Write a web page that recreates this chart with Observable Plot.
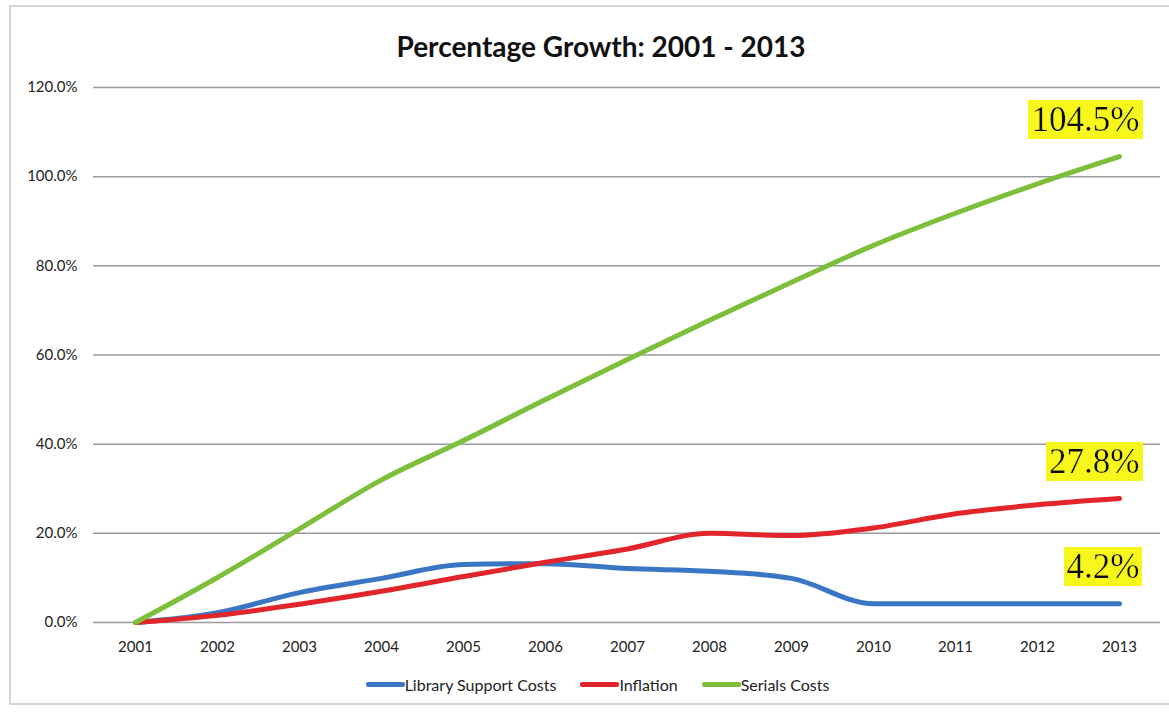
<!DOCTYPE html>
<html>
<head>
<meta charset="utf-8">
<script src="https://cdn.jsdelivr.net/npm/d3@7"></script>
<script src="https://cdn.jsdelivr.net/npm/@observablehq/plot@0.6"></script>
<style>
  html, body { margin: 0; padding: 0; background: #fff; }
  #wrap { position: relative; width: 1169px; height: 714px; overflow: hidden; font-family: Lato, "Open Sans", sans-serif; }
  #frame { position: absolute; left: 9px; top: 5px; width: 1162px; height: 700px; border: 2px solid #d6d6d6; box-sizing: border-box; }
  #title { position: absolute; left: 0; width: 1202px; top: 29px; text-align: center; font-weight: bold; font-size: 28px; color: #111; }
  #chart { position: absolute; left: 0; top: 0; }
  #legend { position: absolute; left: 0; width: 1195px; top: 675px; display: flex; justify-content: center; gap: 24px; font-size: 16px; color: #222; }
  #legend .item { display: flex; align-items: center; }
  #legend .sw { width: 39px; height: 5px; border-radius: 2px; }
</style>
</head>
<body>
<div id="wrap">
  <div id="frame"></div>
  <div id="chart"></div>
  <div id="title">Percentage Growth: 2001 - 2013</div>
  <div id="legend"></div>
</div>
<script>
const years = ["2001","2002","2003","2004","2005","2006","2007","2008","2009","2010","2011","2012","2013"];
const librarySupport = [0, 2.2, 6.7, 9.9, 13.0, 13.2, 12.1, 11.5, 9.9, 4.2, 4.2, 4.2, 4.2];
const inflation = [0, 1.6, 4.1, 7.0, 10.3, 13.5, 16.5, 20.0, 19.5, 21.2, 24.4, 26.4, 27.8];
const serials = [0, 10.1, 21.0, 32.0, 40.8, 50.0, 59.0, 67.8, 76.3, 84.6, 91.8, 98.4, 104.5];
const seriesNames = ["Library Support Costs", "Inflation", "Serials Costs"];
const seriesColors = ["#3b76c4", "#e2252b", "#7dbf3b"];
const yTicks = [0, 20, 40, 60, 80, 100, 120];

const seriesValues = [librarySupport, inflation, serials];
const rows = [];
seriesNames.forEach((name, i) => {
  years.forEach((yr, j) => rows.push({series: name, year: yr, value: seriesValues[i][j]}));
});
const endLabels = seriesNames.map((name, i) => ({
  series: name, year: years[years.length - 1],
  value: seriesValues[i][seriesValues[i].length - 1],
  label: seriesValues[i][seriesValues[i].length - 1].toFixed(1) + "%"
}));

const fmt = d => d.toFixed(1) + "%";

const chart = Plot.plot({
  width: 1169,
  height: 666,
  marginTop: 87,
  marginBottom: 44,
  marginLeft: 93,
  marginRight: 9,
  style: {fontFamily: "Lato, 'Open Sans', sans-serif", fontSize: "15px", color: "#222", background: "transparent"},
  x: {type: "point", domain: years, padding: 0.5, label: null},
  y: {domain: [0, 120], label: null},
  color: {domain: seriesNames, range: seriesColors},
  marks: [
    Plot.gridY(yTicks, {stroke: "#9a9a9a", strokeOpacity: 1, strokeWidth: 1.5}),
    Plot.axisX({tickSize: 0, tickPadding: 19, fontSize: 15}),
    Plot.axisY({ticks: yTicks, tickFormat: fmt, tickSize: 0, tickPadding: 16, fontSize: 15}),
    Plot.line(rows, {x: "year", y: "value", z: "series", stroke: "series", strokeWidth: 5, curve: "monotone-x", strokeLinecap: "round"}),
    Plot.text(endLabels, {x: "year", y: "value", text: "label", textAnchor: "end", dx: 20, dy: -37,
      fontFamily: "'Liberation Serif', 'Times New Roman', serif", fontSize: 35, fill: "#111", lineAnchor: "middle"})
  ]
});

// yellow background filter for end labels
const ns = "http://www.w3.org/2000/svg";
const defs = document.createElementNS(ns, "defs");
defs.innerHTML = '<filter id="ybg" x="-0.03" y="0.02" width="1.06" height="0.98"><feFlood flood-color="#f7f71a"/><feComposite in="SourceGraphic" operator="over"/></filter>';
chart.insertBefore(defs, chart.firstChild);
chart.querySelectorAll('g[aria-label="text"] text').forEach(t => t.setAttribute("filter", "url(#ybg)"));
document.getElementById("chart").appendChild(chart);

const legend = document.getElementById("legend");
seriesNames.forEach((name, i) => {
  const item = document.createElement("div");
  item.className = "item";
  const sw = document.createElement("div");
  sw.className = "sw";
  sw.style.background = seriesColors[i];
  const lab = document.createElement("span");
  lab.textContent = name;
  item.appendChild(sw);
  item.appendChild(lab);
  legend.appendChild(item);
});
</script>
</body>
</html>
